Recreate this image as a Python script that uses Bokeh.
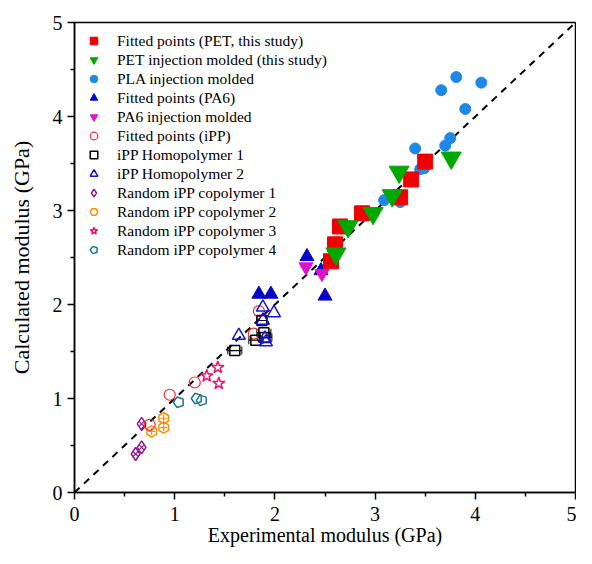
import math
from bokeh.plotting import figure
from bokeh.models import ColumnDataSource, Whisker, Legend, LegendItem, FixedTicker
from bokeh.embed import file_html
from bokeh.resources import INLINE

# ---- data (GPa) ----
pet_fit_x = [2.56, 2.60, 2.65, 2.87, 3.25, 3.36, 3.50]
pet_fit_y = [2.46, 2.64, 2.83, 2.97, 3.14, 3.33, 3.52]

pet_inj_x = [2.61, 2.73, 2.98, 3.17, 3.24, 3.76]
pet_inj_y = [2.54, 2.83, 2.97, 3.16, 3.41, 3.56]

pla_x = [3.09, 3.25, 3.45, 3.49, 3.40, 3.70, 3.75, 3.90, 3.66, 3.81, 4.06]
pla_y = [3.11, 3.09, 3.44, 3.45, 3.66, 3.69, 3.77, 4.08, 4.28, 4.42, 4.36]

pa6_fit_x = [1.84, 1.96, 2.32, 2.46, 2.50]
pa6_fit_y = [2.11, 2.11, 2.51, 2.36, 2.09]

pa6_inj_x = [2.31, 2.47]
pa6_inj_y = [2.40, 2.33]

ipp_fit_x = [1.84, 1.79, 1.20, 0.95, 0.75]
ipp_fit_y = [1.93, 1.69, 1.17, 1.04, 0.72]

homo1_x = [1.60, 1.81, 1.87, 1.89, 1.90]
homo1_y = [1.51, 1.62, 1.83, 1.70, 1.65]
homo1_err = [0.07, 0.07, 0.05, 0.07, 0.07]

homo2_x = [1.64, 1.88, 1.99, 1.88, 1.90, 1.91]
homo2_y = [1.67, 1.97, 1.91, 1.83, 1.64, 1.60]

cop1_x = [0.67, 0.67, 0.61]
cop1_y = [0.73, 0.48, 0.41]

cop2_x = [0.89, 0.89, 0.77]
cop2_y = [0.79, 0.69, 0.65]

cop3_x = [1.32, 1.43, 1.44]
cop3_y = [1.24, 1.33, 1.16]

cop4_x = [1.04, 1.22, 1.27]
cop4_y = [0.96, 1.00, 0.98]

diag = [0, 5]
ticks = [0, 1, 2, 3, 4, 5]
minor_ticks = [0.5, 1.5, 2.5, 3.5, 4.5]

FONT = "Liberation Serif"

p = figure(width=576, height=548, x_range=(0, 5), y_range=(0, 5),
           output_backend="svg", toolbar_location=None,
           min_border_left=74, min_border_right=1, min_border_top=22, min_border_bottom=56)
p.grid.visible = False
p.outline_line_color = "black"
p.outline_line_width = 1.5
p.background_fill_color = "white"
p.border_fill_color = "white"

for ax in (p.xaxis[0], p.yaxis[0]):
    ax.ticker = FixedTicker(ticks=ticks, minor_ticks=minor_ticks)
    ax.axis_line_color = "black"
    ax.axis_line_width = 1.5
    ax.major_tick_in = 0
    ax.major_tick_out = 7
    ax.minor_tick_in = 0
    ax.minor_tick_out = 4
    ax.major_tick_line_width = 1.5
    ax.minor_tick_line_width = 1.5
    ax.major_label_text_font = FONT
    ax.major_label_text_font_size = "20px"
    ax.major_label_text_color = "black"
    ax.axis_label_text_font = FONT
    ax.axis_label_text_font_style = "normal"
    ax.axis_label_text_color = "black"

p.xaxis[0].axis_label = "Experimental modulus (GPa)"
p.yaxis[0].axis_label = "Calculated modulus (GPa)"
p.xaxis[0].axis_label_text_font_size = "20px"
p.yaxis[0].axis_label_text_font_size = "22px"
p.xaxis[0].axis_label_standoff = 0
p.xaxis[0].major_label_standoff = 7
p.yaxis[0].axis_label_standoff = 16

# y = x reference line
p.line(diag, diag, line_color="black", line_width=2, line_dash="7 6")

# iPP homopolymer 1 error bars
src_h1 = ColumnDataSource(dict(y=homo1_y,
                               lo=[a - e for a, e in zip(homo1_x, homo1_err)],
                               hi=[a + e for a, e in zip(homo1_x, homo1_err)]))
wh = Whisker(base="y", lower="lo", upper="hi", dimension="width", source=src_h1,
             line_color="black", line_width=1.2)
wh.upper_head.size = 8
wh.lower_head.size = 8
wh.upper_head.line_color = "black"
wh.lower_head.line_color = "black"
p.add_layout(wh)

r_cop1 = p.scatter(cop1_x, cop1_y, marker="diamond", size=13, fill_color=None,
                   line_color="#8B1A8B", line_width=1.5)
p.scatter(cop1_x, cop1_y, marker="x", size=7, line_color="#8B1A8B", line_width=1.2)
r_cop2 = p.scatter(cop2_x, cop2_y, marker="hex", size=11, angle=math.pi / 6, fill_color=None,
                   line_color="#FF8C00", line_width=1.5)
p.scatter(cop2_x, cop2_y, marker="cross", size=7, line_color="#FF8C00", line_width=1.2)
r_cop3 = p.scatter(cop3_x, cop3_y, marker="star", size=13, fill_color=None,
                   line_color="#F0106E", line_width=1.5)
r_cop4 = p.ngon(x=cop4_x, y=cop4_y, radius=5.5, n=5, radius_units="screen",
                angle=math.pi / 2, fill_color=None, line_color="#1C7A8C", line_width=1.5)

r_ipp = p.scatter(ipp_fit_x, ipp_fit_y, marker="circle", size=11, fill_color=None,
                  line_color="#FF2A2A", line_width=1.2)
r_h1 = p.scatter(homo1_x, homo1_y, marker="square", size=10, fill_color=None,
                 line_color="black", line_width=1.5)
r_h2 = p.scatter(homo2_x, homo2_y, marker="triangle", size=13, fill_color=None,
                 line_color="#1515D8", line_width=1.5)

r_pa6f = p.scatter(pa6_fit_x, pa6_fit_y, marker="triangle", size=14,
                   fill_color="#0505C8", line_color="#0505C8")
r_pa6i = p.scatter(pa6_inj_x, pa6_inj_y, marker="inverted_triangle", size=14,
                   fill_color="#E012C8", line_color="#E012C8")

r_pla = p.scatter(pla_x, pla_y, marker="circle", size=11,
                  fill_color="#1E88E8", line_color="#1E88E8")
r_petf = p.scatter(pet_fit_x, pet_fit_y, marker="square", size=15,
                   fill_color="#F00000", line_color="#F00000")
r_peti = p.scatter(pet_inj_x, pet_inj_y, marker="inverted_triangle", size=20,
                   fill_color="#00A800", line_color="#00A800")

legend = Legend(items=[
    LegendItem(label="Fitted points (PET, this study)", renderers=[r_petf]),
    LegendItem(label="PET injection molded (this study)", renderers=[r_peti]),
    LegendItem(label="PLA injection molded", renderers=[r_pla]),
    LegendItem(label="Fitted points (PA6)", renderers=[r_pa6f]),
    LegendItem(label="PA6 injection molded", renderers=[r_pa6i]),
    LegendItem(label="Fitted points (iPP)", renderers=[r_ipp]),
    LegendItem(label="iPP Homopolymer 1", renderers=[r_h1]),
    LegendItem(label="iPP Homopolymer 2", renderers=[r_h2]),
    LegendItem(label="Random iPP copolymer 1", renderers=[r_cop1]),
    LegendItem(label="Random iPP copolymer 2", renderers=[r_cop2]),
    LegendItem(label="Random iPP copolymer 3", renderers=[r_cop3]),
    LegendItem(label="Random iPP copolymer 4", renderers=[r_cop4]),
], location="top_left")
legend.label_text_font = FONT
legend.label_text_font_size = "15.5px"
legend.label_text_color = "black"
legend.glyph_width = 21
legend.glyph_height = 19
legend.label_height = 19
legend.spacing = 0
legend.label_standoff = 13
legend.margin = 9
legend.padding = 5
legend.border_line_color = None
legend.background_fill_alpha = 0
p.add_layout(legend)

open("out.html", "w").write(file_html(p, INLINE))
